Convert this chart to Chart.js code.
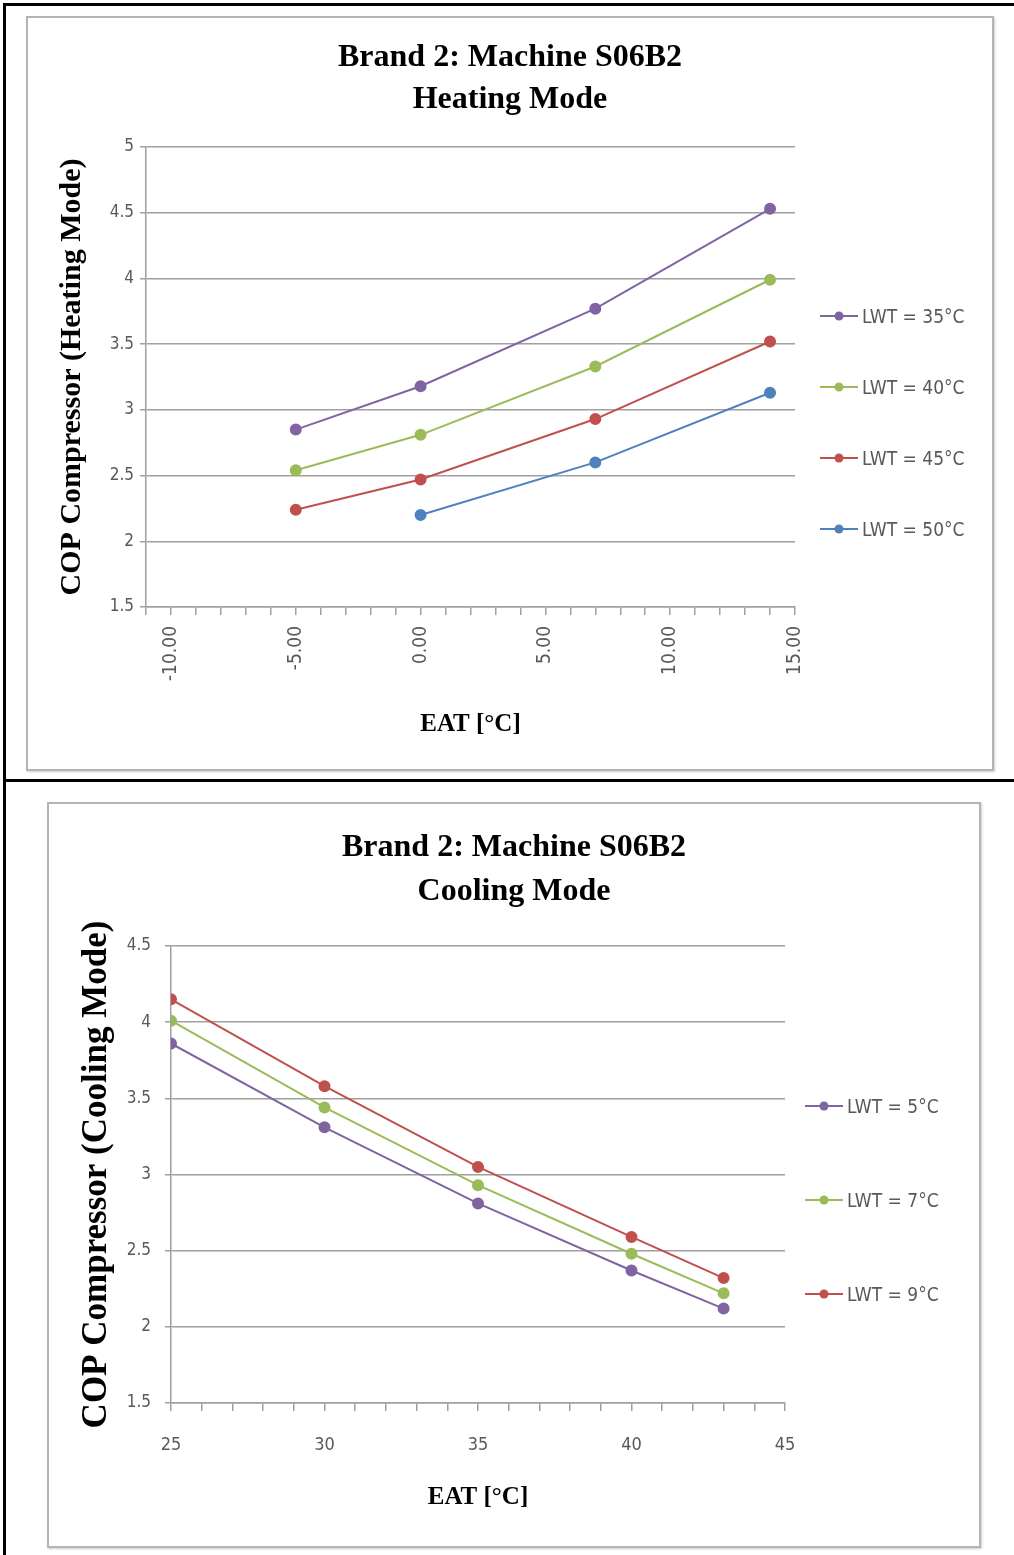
<!DOCTYPE html>
<html lang="en">
<head>
  <meta charset="UTF-8" />
  <title>Brand 2: Machine S06B2</title>
  <script src="https://cdn.jsdelivr.net/npm/chart.js"></script>
  <style>
    body {
      margin: 0;
      background: #fff;
      width: 1014px;
      height: 1555px;
      position: relative;
      overflow: hidden;
    }
    .page-border {
      position: absolute;
      left: 3px;
      top: 3px;
      width: 1100px;
      height: 1600px;
      border-left: 3px solid #000;
      border-top: 3px solid #000;
    }
    .divider {
      position: absolute;
      left: 3px;
      top: 779px;
      width: 1100px;
      height: 3px;
      background: #000;
    }
    .frame {
      position: absolute;
      border: 2px solid #b4b4b4;
      box-shadow: 1px 1px 2px rgba(0,0,0,0.2);
      background: #fff;
    }
    .frame canvas { display: block; }
    .legend {
      position: absolute;
      display: flex;
      flex-direction: column;
      font-family: 'Liberation Sans Narrow', 'DejaVu Sans Condensed', Roboto, sans-serif;
      font-size: 19px;
      color: #595959;
    }
    .legend .item {
      display: flex;
      align-items: center;
    }
    .legend svg { margin-right: 4px; }
  </style>
</head>
<body>
  <div class="page-border"></div>
  <div class="divider"></div>

  <div class="frame" style="left:26px; top:16px;">
    <canvas id="heatChart" width="964" height="751"></canvas>
  </div>
  <div class="legend" id="heatLegend" style="left:820px; top:280px;"></div>

  <div class="frame" style="left:47px; top:802px;">
    <canvas id="coolChart" width="930" height="742"></canvas>
  </div>
  <div class="legend" id="coolLegend" style="left:805px; top:1059px;"></div>

  <script>
  // ---- heating mode data ----
  const heatEAT = [-5, 0, 7, 14];
  const heatLabels = ['LWT = 35°C', 'LWT = 40°C', 'LWT = 45°C', 'LWT = 50°C'];
  const heat35 = [2.85, 3.18, 3.77, 4.53];
  const heat40 = [2.54, 2.81, 3.33, 3.99];
  const heat45 = [2.24, 2.47, 2.93, 3.52];
  const heat50 = [null, 2.20, 2.60, 3.13];

  // ---- cooling mode data ----
  const coolEAT = [25, 30, 35, 40, 43];
  const coolLabels = ['LWT = 5°C', 'LWT = 7°C', 'LWT = 9°C'];
  const cool5 = [3.86, 3.31, 2.81, 2.37, 2.12];
  const cool7 = [4.01, 3.44, 2.93, 2.48, 2.22];
  const cool9 = [4.15, 3.58, 3.05, 2.59, 2.32];

  const PURPLE = '#8064A2', GREEN = '#9BBB59', RED = '#C0504D', BLUE = '#4F81BD';
  const GRID = '#a0a0a0';
  const SERIF = "'Liberation Serif', 'DejaVu Serif', serif";
  const TICKFONT = "'Liberation Sans Narrow', 'DejaVu Sans Condensed', Roboto, sans-serif";

  function series(label, xs, ys, color) {
    return {
      label: label,
      data: xs.map((x, i) => ({ x: x, y: ys[i] })).filter(p => p.y !== null),
      borderColor: color,
      backgroundColor: color,
      borderWidth: 2,
      pointRadius: 5,
      pointHoverRadius: 5,
      showLine: true,
      tension: 0
    };
  }

  function buildLegend(chart, id, rowHeight) {
    const box = document.getElementById(id);
    chart.data.datasets.forEach(ds => {
      const item = document.createElement('div');
      item.className = 'item';
      item.style.height = rowHeight + 'px';
      item.innerHTML =
        '<svg width="38" height="12"><line x1="0" y1="6" x2="38" y2="6" stroke="' + ds.borderColor +
        '" stroke-width="2"/><circle cx="19" cy="6" r="4.5" fill="' + ds.borderColor + '"/></svg>' +
        '<span>' + ds.label + '</span>';
      box.appendChild(item);
    });
  }

  // cfg.area = wanted chart area in canvas px
  function makeChart(id, cfg) {
    const c = document.getElementById(id);
    return new Chart(c, {
      type: 'scatter',
      data: { datasets: cfg.datasets },
      options: {
        responsive: false,
        animation: false,
        devicePixelRatio: 1,
        layout: { padding: 0 },
        plugins: {
          legend: { display: false },
          tooltip: { enabled: false },
          title: {
            display: true,
            text: cfg.title,
            color: '#000',
            font: { family: SERIF, size: 32, weight: 'bold', lineHeight: cfg.titleLine / 32 },
            padding: {
              top: cfg.titleCenter - cfg.titleLine / 2,
              bottom: cfg.area.top - (cfg.titleCenter - cfg.titleLine / 2) - cfg.titleLine * 2
            }
          }
        },
        scales: {
          x: {
            type: 'linear',
            min: cfg.xMin, max: cfg.xMax,
            afterFit: s => { s.height = c.height - cfg.area.bottom; },
            ticks: {
              stepSize: 1,
              autoSkip: false,
              minRotation: cfg.xRot, maxRotation: cfg.xRot,
              padding: cfg.xTickPad,
              color: '#595959',
              font: { family: TICKFONT, size: cfg.xTickSize },
              callback: v => (v % 5 === 0 ? cfg.xFmt(v) : '')
            },
            grid: { drawOnChartArea: false, drawTicks: true, tickLength: 8, color: GRID, lineWidth: 1.5 },
            border: { color: GRID, width: 1.5 },
            title: {
              display: true,
              text: 'EAT [°C]',
              color: '#000',
              font: { family: SERIF, size: 25, weight: 'bold', lineHeight: 1.2 },
              padding: { top: 0, bottom: cfg.xTitleBottom }
            }
          },
          y: {
            min: cfg.yMin, max: cfg.yMax,
            afterFit: s => { s.width = cfg.area.left; },
            ticks: {
              stepSize: 0.5,
              padding: cfg.yTickPad,
              color: '#595959',
              font: { family: TICKFONT, size: 17 },
              callback: v => String(v)
            },
            grid: { color: GRID, lineWidth: 1.5, tickLength: 6 },
            border: { color: GRID, width: 1.5 },
            title: {
              display: true,
              text: cfg.yTitle,
              color: '#000',
              font: { family: SERIF, size: cfg.yTitleSize, weight: 'bold', lineHeight: 1.2 },
              padding: { top: cfg.yTitleCenter - cfg.yTitleSize * 0.6, bottom: 0 }
            }
          },
          // empty box on the right, leaves room for the legend
          legendSpace: {
            position: 'right',
            display: true,
            afterFit: s => { s.width = c.width - cfg.area.right; },
            ticks: { display: false },
            grid: { display: false },
            border: { display: false }
          }
        }
      }
    });
  }

  const heatChart = makeChart('heatChart', {
    datasets: [
      series(heatLabels[0], heatEAT, heat35, PURPLE),
      series(heatLabels[1], heatEAT, heat40, GREEN),
      series(heatLabels[2], heatEAT, heat45, RED),
      series(heatLabels[3], heatEAT, heat50, BLUE)
    ],
    title: ['Brand 2: Machine S06B2', 'Heating Mode'],
    titleCenter: 40, titleLine: 42,
    area: { left: 118, right: 767, top: 129, bottom: 589 },
    xMin: -11, xMax: 15, xRot: 90, xTickPad: 11, xTickSize: 19,
    xFmt: v => v.toFixed(2),
    xTitleBottom: 29,
    yMin: 1.5, yMax: 5, yTickPad: 6,
    yTitle: 'COP Compressor (Heating Mode)', yTitleSize: 30, yTitleCenter: 44
  });

  const coolChart = makeChart('coolChart', {
    datasets: [
      series(coolLabels[0], coolEAT, cool5, PURPLE),
      series(coolLabels[1], coolEAT, cool7, GREEN),
      series(coolLabels[2], coolEAT, cool9, RED)
    ],
    title: ['Brand 2: Machine S06B2', 'Cooling Mode'],
    titleCenter: 44, titleLine: 44,
    area: { left: 122, right: 736, top: 142, bottom: 599 },
    xMin: 25, xMax: 45, xRot: 0, xTickPad: 24, xTickSize: 18,
    xFmt: v => String(v),
    xTitleBottom: 33,
    yMin: 1.5, yMax: 4.5, yTickPad: 14,
    yTitle: 'COP Compressor (Cooling Mode)', yTitleSize: 35, yTitleCenter: 48
  });

  buildLegend(heatChart, 'heatLegend', 71);
  buildLegend(coolChart, 'coolLegend', 94);
  </script>
</body>
</html>
